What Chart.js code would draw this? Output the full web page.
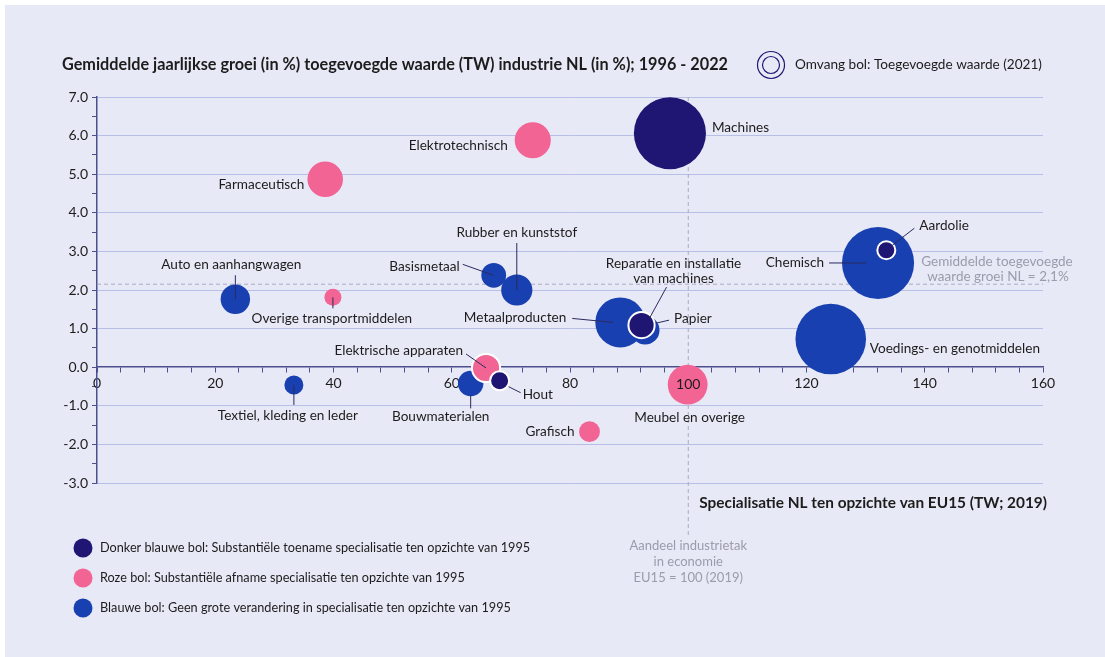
<!DOCTYPE html>
<html>
<head>
<meta charset="utf-8">
<script src="https://cdn.jsdelivr.net/npm/chart.js@4"></script>
<style>
html, body { margin: 0; padding: 0; background: #fff; }
#wrap { width: 1105px; height: 657px; }
</style>
</head>
<body>
<div id="wrap"><canvas id="groeiChart" width="1105" height="657"></canvas></div>
<script>
// industrietakken
const sectoren = [
  'Machines', 'Reparatie en installatie van machines', 'Aardolie', 'Hout',
  'Elektrotechnisch', 'Farmaceutisch', 'Overige transportmiddelen', 'Meubel en overige',
  'Grafisch', 'Elektrische apparaten',
  'Auto en aanhangwagen', 'Textiel, kleding en leder', 'Basismetaal', 'Rubber en kunststof',
  'Metaalproducten', 'Papier', 'Chemisch', 'Voedings- en genotmiddelen', 'Bouwmaterialen'
];
// specialisatie NL t.o.v. EU15 (EU15 = 100)
const specialisatie = [96.9, 92.1, 133.5, 68.1, 73.7, 38.6, 39.9, 99.9, 83.3, 65.8,
  23.4, 33.3, 67.1, 71.0, 88.5, 92.7, 132.1, 124.1, 63.2];
// gemiddelde jaarlijkse groei TW 1996-2022 (%)
const groei = [6.06, 1.09, 3.03, -0.35, 5.88, 4.87, 1.81, -0.45, -1.67, -0.02,
  1.76, -0.46, 2.38, 2.0, 1.16, 0.96, 2.70, 0.73, -0.42];
// toegevoegde waarde 2021 (mld euro) -> omvang bol
const toegevoegdeWaarde = [14.4, 1.9, 0.9, 1.0, 3.6, 3.5, 0.8, 4.4, 1.2, 2.2,
  2.4, 1.0, 1.7, 2.7, 6.9, 2.3, 14.4, 13.8, 1.8];
// verandering specialisatie t.o.v. 1995
const groep = ['toename', 'toename', 'toename', 'toename',
  'afname', 'afname', 'afname', 'afname', 'afname', 'afname',
  'geen', 'geen', 'geen', 'geen', 'geen', 'geen', 'geen', 'geen', 'geen'];

const gemiddeldeGroei = 2.15;
const eu15 = 100;

const yTicks = [7, 6, 5, 4, 3, 2, 1, 0, -1, -2, -3];
const xTicks = [0, 20, 40, 60, 80, 100, 120, 140, 160];

const NAVY = '#1f1674';
const ROZE = '#f26494';
const BLAUW = '#1840b0';
const AS = '#4b4f8e';
const GRID = '#b7bfe6';
const GRIJS = '#9b9cab';
const TEKST = '#1c1c1c';
const FONT = 'Lato, "Open Sans", sans-serif';

const groepen = [
  { key: 'toename', kleur: NAVY, tekst: 'Donker blauwe bol: Substantiële toename specialisatie ten opzichte van 1995' },
  { key: 'afname', kleur: ROZE, tekst: 'Roze bol: Substantiële afname specialisatie ten opzichte van 1995' },
  { key: 'geen', kleur: BLAUW, tekst: 'Blauwe bol: Geen grote verandering in specialisatie ten opzichte van 1995' }
];

const witteRand = ['Reparatie en installatie van machines', 'Aardolie', 'Hout', 'Elektrische apparaten'];

function straal(v) { return 9.5 * Math.sqrt(v); }

// label plaatsing t.o.v. het midden van de bol (px)
const labelPlek = {
  'Machines': { dx: 42, dy: -6, align: 'left' },
  'Elektrotechnisch': { dx: -25, dy: 5, align: 'right' },
  'Farmaceutisch': { dx: -21, dy: 5, align: 'right' },
  'Auto en aanhangwagen': { dx: -4, dy: -35, align: 'center', lijn: [0, -24, 0, 0] },
  'Overige transportmiddelen': { dx: -1, dy: 21, align: 'center', lijn: [0, 0, 0, 11] },
  'Textiel, kleding en leder': { dx: -6, dy: 31, align: 'center', lijn: [0, 0, 0, 20] },
  'Basismetaal': { dx: -34, dy: -9, align: 'right', lijn: [-31, -11, 0, 0] },
  'Rubber en kunststof': { dx: 0, dy: -57, align: 'center', lijn: [0, -47, 0, 0] },
  'Metaalproducten': { dx: -54, dy: -5, align: 'right', lijn: [-48, -4, -7, 0] },
  'Reparatie en installatie van machines': { dx: 32, dy: -62, align: 'center', regels: ['Reparatie en installatie', 'van machines'], lijn: [25, -38, 8, -7] },
  'Papier': { dx: 29, dy: -12, align: 'left', lijn: [11, -7, 24, -10] },
  'Chemisch': { dx: -54, dy: 0, align: 'right', lijn: [-49, 0, -12, 0] },
  'Aardolie': { dx: 33, dy: -25, align: 'left', lijn: [6, -5, 28, -22] },
  'Voedings- en genotmiddelen': { dx: 39, dy: 10, align: 'left' },
  'Meubel en overige': { dx: 2, dy: 33, align: 'center' },
  'Grafisch': { dx: -15, dy: 0, align: 'right' },
  'Elektrische apparaten': { dx: -23, dy: -17, align: 'right', lijn: [-20, -14, 0, 0] },
  'Bouwmaterialen': { dx: -30, dy: 33, align: 'center', lijn: [0, 12, 0, 25] },
  'Hout': { dx: 23, dy: 14, align: 'left', lijn: [9, 6, 21, 12] }
};

const punten = sectoren.map((s, i) => ({ x: specialisatie[i], y: groei[i], r: straal(toegevoegdeWaarde[i]), naam: s }));

const datasets = groepen.map(g => ({
  label: g.tekst,
  data: punten.filter((p, i) => groep[i] === g.key),
  backgroundColor: g.kleur,
  borderColor: '#ffffff',
  borderWidth: ctx => (ctx.raw && witteRand.includes(ctx.raw.naam)) ? 2 : 0,
  clip: false
}));

// tekst op een vaste breedte zetten (lettergrootte aanpassen)
function pasTekst(c, tekst, breedte, gewicht, basis) {
  c.font = gewicht + ' ' + basis + 'px ' + FONT;
  const w = c.measureText(tekst).width;
  const size = basis * breedte / w;
  c.font = gewicht + ' ' + size.toFixed(2) + 'px ' + FONT;
}

const achtergrond = {
  id: 'achtergrond',
  beforeDraw(chart) {
    const c = chart.ctx;
    c.save();
    c.fillStyle = '#ffffff';
    c.fillRect(0, 0, chart.width, chart.height);
    c.fillStyle = '#e8e9f6';
    c.fillRect(5, 5, chart.width - 5, chart.height - 5);
    c.restore();
  }
};

const hulplijnen = {
  id: 'hulplijnen',
  beforeDatasetsDraw(chart) {
    const c = chart.ctx, a = chart.chartArea;
    const xs = chart.scales.x, ys = chart.scales.y;
    c.save();
    c.strokeStyle = '#a9abc6';
    c.lineWidth = 1;
    c.setLineDash([4, 3]);
    const yg = ys.getPixelForValue(gemiddeldeGroei);
    c.beginPath(); c.moveTo(a.left, yg); c.lineTo(a.right, yg); c.stroke();
    const xe = xs.getPixelForValue(eu15);
    c.beginPath(); c.moveTo(xe, a.top); c.lineTo(xe, 535); c.stroke();
    c.setLineDash([]);
    c.fillStyle = GRIJS;
    c.font = '13.5px ' + FONT;
    c.textAlign = 'center';
    c.textBaseline = 'middle';
    c.fillText('Gemiddelde toegevoegde', 997, yg - 23);
    c.fillText('waarde groei NL = 2,1%', 998, yg - 8);
    c.font = '13px ' + FONT;
    c.fillText('Aandeel industrietak', xe, 546);
    c.fillText('in economie', xe, 562);
    c.fillText('EU15 = 100 (2019)', xe, 578);
    c.restore();
  },
  afterDatasetsDraw(chart) {
    const c = chart.ctx;
    c.save();
    c.font = '13.6px ' + FONT;
    c.textBaseline = 'middle';
    chart.data.datasets.forEach((ds, di) => {
      const meta = chart.getDatasetMeta(di);
      meta.data.forEach((el, j) => {
        const naam = ds.data[j].naam;
        const p = labelPlek[naam];
        if (!p) return;
        if (p.lijn) {
          c.strokeStyle = '#2b2a5e';
          c.lineWidth = 1;
          c.beginPath();
          c.moveTo(el.x + p.lijn[0], el.y + p.lijn[1]);
          c.lineTo(el.x + p.lijn[2], el.y + p.lijn[3]);
          c.stroke();
        }
        c.fillStyle = TEKST;
        c.textAlign = p.align;
        const regels = p.regels || [naam];
        regels.forEach((r, k) => c.fillText(r, el.x + p.dx, el.y + p.dy + k * 15));
      });
    });
    // 100 staat boven de bol
    const xs = chart.scales.x, ys = chart.scales.y;
    c.font = '14px ' + FONT;
    c.textAlign = 'center';
    c.fillStyle = TEKST;
    c.fillText('100', xs.getPixelForValue(100), ys.getPixelForValue(0) + 17);
    c.restore();
  },
  afterDraw(chart) {
    const c = chart.ctx;
    c.save();
    c.textBaseline = 'middle';
    c.textAlign = 'left';
    c.fillStyle = TEKST;
    const titel = 'Gemiddelde jaarlijkse groei (in %) toegevoegde waarde (TW) industrie NL (in %); 1996 - 2022';
    pasTekst(c, titel, 666, 'bold', 14.5);
    c.fillText(titel, 62, 65);
    const xTitel = 'Specialisatie NL ten opzichte van EU15 (TW; 2019)';
    pasTekst(c, xTitel, 348, 'bold', 14.5);
    c.textAlign = 'right';
    c.fillText(xTitel, 1047, 503);
    // omvang bol
    c.strokeStyle = NAVY;
    c.lineWidth = 1.2;
    c.beginPath(); c.arc(771, 65, 13.5, 0, Math.PI * 2); c.stroke();
    c.beginPath(); c.arc(771, 65, 8.5, 0, Math.PI * 2); c.stroke();
    c.textAlign = 'left';
    c.font = '13.6px ' + FONT;
    c.fillText('Omvang bol: Toegevoegde waarde (2021)', 795, 65);
    // legenda
    groepen.forEach((g, i) => {
      const y = 548 + i * 30;
      c.fillStyle = g.kleur;
      c.beginPath(); c.arc(83, y, 9.5, 0, Math.PI * 2); c.fill();
      c.fillStyle = TEKST;
      c.font = '12.7px ' + FONT;
      c.fillText(g.tekst, 100, y);
    });
    c.restore();
  }
};

Chart.defaults.font.family = FONT;
Chart.defaults.color = TEKST;

const ctx = document.getElementById('groeiChart').getContext('2d');
const groeiChart = new Chart(ctx, {
  type: 'bubble',
  data: { datasets: datasets },
  options: {
    responsive: false,
    animation: false,
    events: [],
    layout: { padding: { top: 97, right: 62, bottom: 174, left: 0 } },
    plugins: {
      legend: { display: false },
      tooltip: { enabled: false }
    },
    scales: {
      x: {
        type: 'linear',
        position: { y: 0 },
        min: 0,
        max: 160,
        grid: { drawOnChartArea: false, drawTicks: true, tickLength: 5, tickColor: AS },
        border: { color: AS, width: 1.5 },
        ticks: {
          stepSize: 4,
          autoSkip: false,
          maxRotation: 0,
          padding: 3,
          font: { size: 14 },
          callback: v => xTicks.includes(v) && v !== 100 ? String(v) : ''
        }
      },
      y: {
        type: 'linear',
        min: -3,
        max: 7,
        afterFit: s => { s.width = 97; },
        grid: {
          color: c => (c.tick && yTicks.includes(c.tick.value) && c.tick.value !== 0) ? GRID : 'rgba(0,0,0,0)',
          tickColor: AS,
          tickLength: 5
        },
        border: { color: AS, width: 1.5 },
        ticks: {
          stepSize: 0.5,
          autoSkip: false,
          padding: 4,
          font: { size: 14 },
          callback: v => yTicks.includes(v) ? v.toFixed(1) : ''
        }
      }
    }
  },
  plugins: [achtergrond, hulplijnen]
});
</script>
</body>
</html>
